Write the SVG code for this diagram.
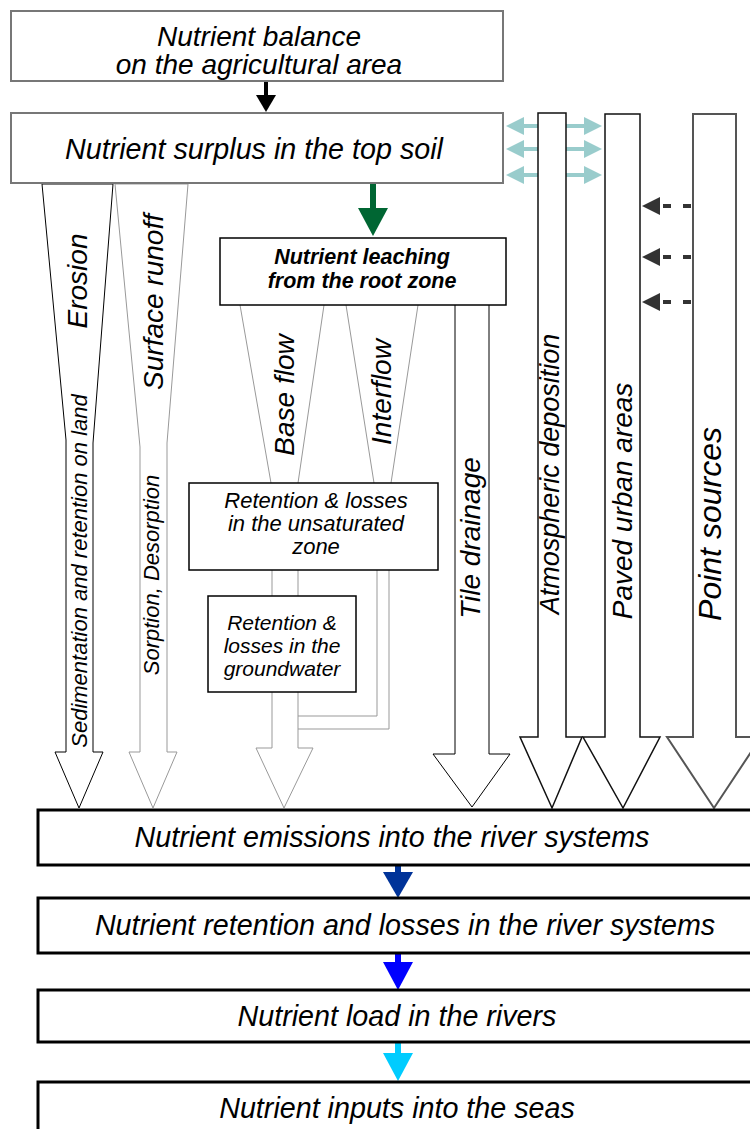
<svg xmlns="http://www.w3.org/2000/svg" width="750" height="1129" viewBox="0 0 750 1129">
<style>
text{font-family:"Liberation Sans",Arial,sans-serif;font-style:italic;fill:#000}
.big{font-size:28.7px;text-anchor:middle}
.lab{font-size:28px;text-anchor:middle}
.sm{font-size:22px;text-anchor:middle}
.bold{font-weight:bold}
.gbox{fill:#fff;stroke:#777;stroke-width:2}
.kbox{fill:#fff;stroke:#000;stroke-width:1.5}
.rbox{fill:#fff;stroke:#000;stroke-width:3}
.flow{fill:#fff;stroke:#000;stroke-width:1}
.gflow{fill:#fff;stroke:#999;stroke-width:1}
.col{fill:#fff;stroke:#111;stroke-width:1.5}
.pipe{fill:none;stroke:#999;stroke-width:1}
.teal{stroke:#99cccc;stroke-width:4;fill:none}
.tealh{fill:#99cccc}
.dash{stroke:#333;stroke-width:4;stroke-dasharray:8 12;fill:none}
</style>
<g id="connectors">
  <g id="arrow-balance-surplus">
    <rect x="264" y="82" width="4" height="14" fill="#000"/>
    <polygon points="256,95 276,95 266,112" fill="#000"/>
  </g>
  <g id="arrow-surplus-leaching">
    <rect x="370" y="184" width="6" height="25" fill="#006633"/>
    <polygon points="358,208 388,208 373,236" fill="#006633"/>
  </g>
  <g id="teal-arrows">
    <line class="teal" x1="520" y1="126" x2="588" y2="126"/>
    <polygon class="tealh" points="506,126 524,117 524,135"/>
    <polygon class="tealh" points="602,126 584,117 584,135"/>
    <line class="teal" x1="520" y1="149" x2="588" y2="149"/>
    <polygon class="tealh" points="506,149 524,140 524,158"/>
    <polygon class="tealh" points="602,149 584,140 584,158"/>
    <line class="teal" x1="520" y1="175" x2="588" y2="175"/>
    <polygon class="tealh" points="506,175 524,166 524,184"/>
    <polygon class="tealh" points="602,175 584,166 584,184"/>
  </g>
  <g id="dashed-arrows">
    <line class="dash" x1="691" y1="206" x2="658" y2="206"/>
    <polygon points="642,206 660,197 660,215" fill="#333"/>
    <line class="dash" x1="691" y1="257" x2="658" y2="257"/>
    <polygon points="642,257 660,248 660,266" fill="#333"/>
    <line class="dash" x1="691" y1="302" x2="658" y2="302"/>
    <polygon points="642,302 660,293 660,311" fill="#333"/>
  </g>
  <g id="erosion">
    <polygon class="flow" points="42,184 66,440 66,752 55,752 79,808 103,752 93,752 93,443 113,184"/>
  </g>
  <g id="surface-runoff">
    <polygon class="gflow" points="115,184 140,447 140,752 129,752 153,808 177,752 167,752 167,443 188,184"/>
  </g>
  <g id="base-flow">
    <polyline class="pipe" points="240,305 271,483"/>
    <polyline class="pipe" points="324,305 298,483"/>
  </g>
  <g id="interflow">
    <polyline class="pipe" points="346,305 374,483"/>
    <polyline class="pipe" points="418,305 391,483"/>
  </g>
  <g id="groundwater-flow">
    <polygon points="272,570 298,570 298,748 313,748 284,808 256,748 272,748" fill="#fff" stroke="none"/>
    <polyline class="pipe" points="272,570 272,748 256,748 284,808 313,748 298,748 298,570"/>
    <polyline class="pipe" points="377,570 377,716 298,716"/>
    <polyline class="pipe" points="389,570 389,729 298,729"/>
  </g>
  <g id="tile-drainage">
    <polygon points="455,305 489,305 489,754 510,754 472,807 433,754 455,754" fill="#fff" stroke="none"/>
    <polyline class="flow" points="455,305 455,754 433,754 472,807 510,754 489,754 489,305"/>
  </g>
  <g id="atmospheric-deposition">
    <polygon class="col" points="538,113 566,113 566,737 582,737 552,808 520,737 538,737"/>
  </g>
  <g id="paved-urban-areas">
    <polygon class="col" points="605,114 640,114 640,737 660,737 623,808 583,737 605,737"/>
  </g>
  <g id="point-sources">
    <polygon points="693,114 736,114 736,737 761,737 714,808 667,737 693,737" fill="#fff" stroke="#555" stroke-width="2"/>
  </g>
  <g id="arrow-emissions-retention">
    <rect x="395" y="865" width="6" height="9" fill="#003399"/>
    <polygon points="383,872 413,872 398,898" fill="#003399"/>
  </g>
  <g id="arrow-retention-load">
    <rect x="395" y="953" width="6" height="11" fill="#0000ff"/>
    <polygon points="383,962 413,962 398,990" fill="#0000ff"/>
  </g>
  <g id="arrow-load-inputs">
    <rect x="395" y="1042" width="6" height="13" fill="#00ccff"/>
    <polygon points="383,1053 413,1053 398,1081" fill="#00ccff"/>
  </g>
</g>
<g id="flow-labels">
  <text class="lab" transform="translate(87,281) rotate(-90)">Erosion</text>
  <text class="lab" transform="translate(163,302) rotate(-90)">Surface runoff</text>
  <text class="sm" transform="translate(87,571) rotate(-90)">Sedimentation and retention on land</text>
  <text class="sm" transform="translate(159,575) rotate(-90)">Sorption, Desorption</text>
  <text class="lab" transform="translate(294,395) rotate(-90)">Base flow</text>
  <text class="lab" transform="translate(391,392) rotate(-90)">Interflow</text>
  <text class="lab" transform="translate(480,538) rotate(-90)">Tile drainage</text>
  <text class="lab" transform="translate(559,474) rotate(-90)" style="font-size:27px">Atmospheric deposition</text>
  <text class="lab" transform="translate(632,501) rotate(-90)">Paved urban areas</text>
  <text class="lab" transform="translate(721,524) rotate(-90)" style="font-size:32px">Point sources</text>
</g>
<g id="node-balance">
  <rect class="gbox" x="11" y="11" width="492" height="70"/>
  <text class="big" x="259" y="46" style="font-size:28px">Nutrient balance</text>
  <text class="big" x="259" y="74" style="font-size:28px">on the agricultural area</text>
</g>
<g id="node-surplus">
  <rect class="gbox" x="11" y="113" width="492" height="70"/>
  <text class="big" x="254" y="159">Nutrient surplus in the top soil</text>
</g>
<g id="node-leaching">
  <rect class="kbox" x="220" y="238" width="286" height="67"/>
  <text class="sm bold" x="362" y="264" style="font-size:21.5px">Nutrient leaching</text>
  <text class="sm bold" x="362" y="288" style="font-size:21.5px">from the root zone</text>
</g>
<g id="node-unsaturated">
  <rect class="kbox" x="189" y="483" width="249" height="87" stroke="#222"/>
  <text class="sm" x="316" y="508">Retention &amp; losses</text>
  <text class="sm" x="316" y="531">in the unsaturated</text>
  <text class="sm" x="316" y="554">zone</text>
</g>
<g id="node-groundwater">
  <rect class="kbox" x="208" y="596" width="148" height="96"/>
  <text class="sm" x="282" y="630" style="font-size:21px">Retention &amp;</text>
  <text class="sm" x="282" y="653" style="font-size:21px">losses in the</text>
  <text class="sm" x="282" y="676" style="font-size:21px">groundwater</text>
</g>
<g id="node-emissions">
  <rect class="rbox" x="38" y="810" width="719" height="55"/>
  <text class="big" x="392" y="847">Nutrient emissions into the river systems</text>
</g>
<g id="node-retention">
  <rect class="rbox" x="38" y="898" width="719" height="55"/>
  <text class="big" x="405" y="935">Nutrient retention and losses in the river systems</text>
</g>
<g id="node-load">
  <rect class="rbox" x="38" y="990" width="719" height="52"/>
  <text class="big" x="397" y="1026">Nutrient load in the rivers</text>
</g>
<g id="node-inputs">
  <rect class="rbox" x="38" y="1082" width="719" height="60"/>
  <text class="big" x="397" y="1118">Nutrient inputs into the seas</text>
</g>
</svg>
